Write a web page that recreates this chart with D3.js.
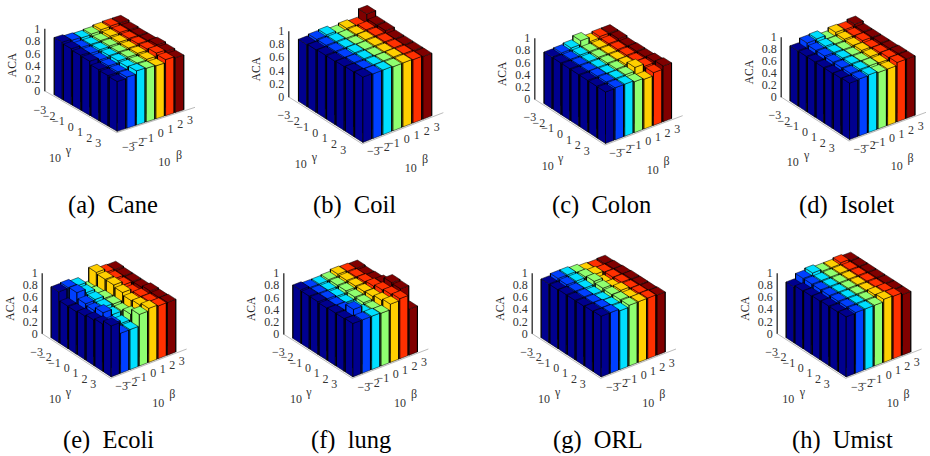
<!DOCTYPE html>
<html><head><meta charset="utf-8">
<script src="https://cdn.jsdelivr.net/npm/d3@7/dist/d3.min.js"></script>
<style>html,body{margin:0;padding:0;background:#fff}svg{display:block;opacity:.999}text{font-family:"Liberation Serif",serif}</style>
</head><body><svg id="c" width="930" height="456"></svg>
<script>
const gammaLabels=["−3","−2","−1","0","1","2","3"];
const betaLabels=["−3","−2","−1","0","1","2","3"];
const zTicks=[0,0.2,0.4,0.6,0.8,1];
const jet=["#00008f","#0040ff","#00dfff","#8fff70","#ffcf00","#ff3000","#800000"];
const names=["(a)  Cane","(b)  Coil","(c)  Colon","(d)  Isolet","(e)  Ecoli","(f)  lung","(g)  ORL","(h)  Umist"];
// rows: gamma -3..3, columns: beta -3..3
const cane=[
[.92,.90,.89,.90,.92,.93,.93],
[.90,.87,.87,.88,.90,.91,.91],
[.88,.86,.87,.88,.89,.90,.90],
[.87,.84,.86,.87,.88,.90,.90],
[.82,.83,.86,.87,.88,.90,.92],
[.81,.82,.85,.86,.87,.92,.90],
[.80,.82,.87,.86,.85,.90,.88]];
const coil=[
[.94,.96,.97,.93,.95,.93,1.05],
[.95,.96,.96,.95,.95,.96,.98],
[.96,.96,.96,.95,.96,.96,.98],
[.96,.96,.97,.96,.96,.96,.95],
[.97,.97,.97,.96,.96,.96,.95],
[.98,.97,.97,.97,.97,.96,.95],
[.99,.98,.98,.97,.97,.96,.95]];
const colon=[
[.84,.85,.87,.93,.86,.88,.88],
[.84,.84,.85,.85,.85,.86,.88],
[.84,.84,.84,.85,.85,.86,.86],
[.84,.84,.84,.85,.85,.86,.87],
[.84,.85,.84,.85,.86,.86,.87],
[.84,.85,.85,.85,.91,.87,.89],
[.84,.85,.85,.83,.81,.86,.91]];
const isolet=[
[.92,.99,1.0,.94,.99,.98,1.01],
[.92,.96,.97,.95,.97,.97,.98],
[.92,.96,.96,.95,.96,.98,.98],
[.92,.95,.96,.95,.97,.96,.98],
[.92,.95,.96,.95,.96,.97,.98],
[.93,.95,.96,.96,.95,.98,.99],
[.94,.95,.96,.94,.94,.99,.99]];
const ecoli=[
[.84,.85,.82,.70,.92,.86,.85],
[.70,.86,.80,.72,.90,.85,.84],
[.70,.77,.78,.74,.90,.84,.84],
[.72,.75,.75,.74,.87,.81,.84],
[.75,.81,.72,.72,.83,.84,.87],
[.78,.72,.67,.76,.85,.85,.86],
[.84,.66,.66,.85,.89,.87,.87]];
const lung=[
[.87,.85,.85,.86,.89,.88,.87],
[.86,.85,.84,.86,.88,.88,.86],
[.86,.85,.83,.86,.88,.89,.87],
[.85,.84,.82,.85,.88,.91,.90],
[.86,.85,.82,.85,.89,.94,1.0],
[.86,.95,.84,.84,.92,.96,.99],
[.87,.87,.87,.86,.95,.98,.75]];
const orl=[
[.97,1.0,1.0,.98,.95,.94,.95],
[.97,.99,.99,1.0,.98,.96,.96],
[.98,.98,.97,1.02,.94,.97,.97],
[.98,.98,.96,1.0,.96,.98,.98],
[.98,.98,.96,.99,1.0,.98,.98],
[.99,.99,.97,1.0,.98,.99,.98],
[1.0,1.0,.97,1.0,1.0,1.0,.99]];
const umist=[
[.92,1.0,1.03,1.0,1.0,1.02,1.0],
[.95,1.0,1.0,1.0,1.0,1.0,1.0],
[.96,1.0,1.0,1.0,1.0,1.0,1.0],
[.97,1.0,1.0,1.0,1.0,1.0,1.0],
[.98,1.0,1.0,1.0,1.0,1.0,1.0],
[.98,1.0,1.0,1.0,1.02,1.02,1.0],
[.99,1.0,1.0,1.0,1.04,1.03,1.0]];
const datasets=[cane,coil,colon,isolet,ecoli,lung,orl,umist];

// Layout (read at 3x from crop with origin ox,oy)
const layouts=[
{ox:0,oy:0,ax:133,top:85,bot:272,f:[350,398],r:[585,322],g3:[130,330],g9:[295,430],b3:[395,440],b9:[570,360],t10g:[165,473],tg:[205,450],t10b:[493,487],tb:[537,465],cap:[68,213]},
{ox:235,oy:0,ax:160,top:92,bot:290,f:[382,432],r:[625,338],g3:[157,345],g9:[325,450],b3:[425,452],b9:[605,380],t10g:[197,492],tg:[238,470],t10b:[527,503],tb:[570,478],cap:[313,213]},
{ox:470,oy:0,ax:193,top:113,bot:297,f:[405,435],r:[638,347],g3:[190,352],g9:[350,452],b3:[447,458],b9:[622,388],t10g:[233,497],tg:[272,475],t10b:[548,510],tb:[590,483],cap:[552,213]},
{ox:700,oy:0,ax:242,top:110,bot:290,f:[447,423],r:[678,337],g3:[235,345],g9:[395,445],b3:[490,448],b9:[662,378],t10g:[278,485],tg:[320,465],t10b:[590,497],tb:[632,475],cap:[799,213]},
{ox:0,oy:235,ax:125,top:113,bot:295,f:[332,430],r:[560,342],g3:[120,350],g9:[280,448],b3:[375,452],b9:[545,378],t10g:[165,492],tg:[205,472],t10b:[475,503],tb:[517,478],cap:[63,448]},
{ox:235,oy:235,ax:145,top:113,bot:297,f:[352,430],r:[580,342],g3:[140,350],g9:[298,448],b3:[397,455],b9:[567,380],t10g:[183,492],tg:[222,470],t10b:[495,503],tb:[537,478],cap:[311,448]},
{ox:470,oy:235,ax:185,top:113,bot:295,f:[392,430],r:[618,342],g3:[180,350],g9:[338,448],b3:[437,455],b9:[605,385],t10g:[222,492],tg:[263,470],t10b:[535,503],tb:[577,478],cap:[553,448]},
{ox:700,oy:235,ax:230,top:113,bot:295,f:[437,430],r:[665,342],g3:[225,350],g9:[380,448],b3:[482,457],b9:[650,380],t10g:[265,492],tg:[307,470],t10b:[578,503],tb:[620,478],cap:[792,448]}];

const svg=d3.select("#c");
const idx=d3.range(7);
const gBand=d3.scaleBand().domain(idx).range([.11,.985]).paddingInner(.12).paddingOuter(.02);
const bBand=d3.scaleBand().domain(idx).range([.02,.875]).paddingInner(.12).paddingOuter(.02);

datasets.forEach((data,k)=>{
  const L=layouts[k];
  const pt=p=>[L.ox+p[0]/3,L.oy+p[1]/3];
  const g=svg.append("g");
  const [ox,oy]=pt([L.ax,L.bot]);
  const [tx,ty]=pt([L.ax,L.top]);
  const [fx,fy]=pt(L.f);
  const [rx,ry]=pt(L.r);
  const z=d3.scaleLinear().domain([0,1]).range([oy,ty]);
  const px=(a,b,v)=>[ox+a*(fx-ox)+b*(rx-fx), oy+a*(fy-oy)+b*(ry-fy)-(oy-z(v))];
  g.append("path").attr("d",d3.line()([[ox,oy],[fx,fy],[rx,ry]])).attr("fill","none").attr("stroke","#aaa").attr("stroke-width",.8);
  const ax=d3.axisLeft(z).tickValues(zTicks).tickFormat(d3.format("~g")).tickSize(0).tickPadding(4);
  const axG=g.append("g").attr("transform",`translate(${ox},0)`).call(ax);
  axG.select(".domain").attr("stroke","#000").attr("stroke-width",1.1);
  axG.selectAll("text").attr("font-size",12).attr("fill","#333").style("font-family",'"Liberation Serif",serif');
  g.append("text").attr("transform",`translate(${ox-32},${(oy+ty)/2+5.5}) rotate(-90)`).attr("text-anchor","middle").attr("font-size",11.5).attr("dy","0.35em").attr("fill","#222").text("ACA");
  const line=d3.line();
  idx.forEach(i=>{ d3.range(6,-1,-1).forEach(j=>{
    const v=data[i][j], a0=gBand(i),a1=a0+gBand.bandwidth(), b0=bBand(j),b1=b0+bBand.bandwidth();
    const faces=[
      [[a0,b0,0],[a1,b0,0],[a1,b0,v],[a0,b0,v]],
      [[a1,b0,0],[a1,b1,0],[a1,b1,v],[a1,b0,v]],
      [[a0,b0,v],[a1,b0,v],[a1,b1,v],[a0,b1,v]]];
    faces.forEach(f=>{
      g.append("path").attr("d",line(f.map(q=>px(q[0],q[1],q[2])))+"Z")
       .attr("fill",jet[j]).attr("stroke","#000").attr("stroke-width",.5).attr("stroke-linejoin","round");
    });
    // heavier vertical edges, as the reference's dark gaps between bars
    [[a0,b0],[a1,b1],[a1,b0]].forEach((e,n)=>{
      g.append("path").attr("d",line([px(e[0],e[1],0),px(e[0],e[1],v)]))
       .attr("stroke","#000").attr("stroke-width",n===2?.5:1.1).attr("fill","none");
    });
  });});
  const lab=(labels,a,b)=>{
    const sx=d3.scalePoint().domain(idx).range([pt(a)[0],pt(b)[0]]);
    const sy=d3.scalePoint().domain(idx).range([pt(a)[1],pt(b)[1]]);
    idx.forEach(i=>g.append("text").attr("x",sx(i)+3).attr("y",sy(i)+4).attr("text-anchor","end").attr("font-size",12).attr("fill","#333").text(labels[i]));
  };
  lab(gammaLabels,L.g3,L.g9);
  lab(betaLabels,L.b3,L.b9);
  const note=(p,s)=>{const q=pt(p);g.append("text").attr("x",q[0]).attr("y",q[1]+4).attr("text-anchor","middle").attr("font-size",12).attr("fill","#333").text(s);};
  note(L.t10g,"10");note(L.tg,"γ");note(L.t10b,"10");note(L.tb,"β");
  g.append("text").attr("x",L.cap[0]).attr("y",L.cap[1]).attr("font-size",24.5).attr("fill","#000").style("white-space","pre").text(names[k]);
});
</script></body></html>
